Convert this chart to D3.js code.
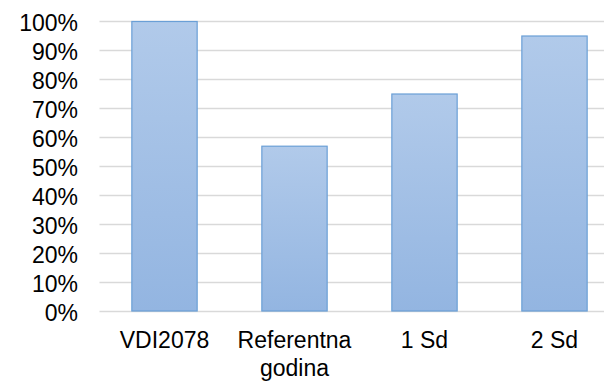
<!DOCTYPE html>
<html>
<head>
<meta charset="utf-8">
<script src="https://cdn.jsdelivr.net/npm/d3@7/dist/d3.min.js"></script>
<style>
  html, body { margin: 0; padding: 0; background: #fff; }
  svg { display: block; }
  text { font-family: "Liberation Sans", Arial, sans-serif; fill: #000; }
</style>
</head>
<body>
<svg id="chart" width="604" height="381"></svg>
<script>
// Share per scenario
const categories = ["VDI2078", "Referentna godina", "1 Sd", "2 Sd"];
const values = [1.00, 0.57, 0.75, 0.95];
const yTicks = [0, 0.1, 0.2, 0.3, 0.4, 0.5, 0.6, 0.7, 0.8, 0.9, 1.0];

const svg = d3.select("#chart");
const W = 604, H = 381;
const plot = { left: 99.5, right: 619.5, top: 21, bottom: 311 };

const x = d3.scaleBand()
  .domain(categories)
  .range([plot.left, plot.right])
  .paddingInner(0.49)
  .paddingOuter(0.245);

const y = d3.scaleLinear()
  .domain([0, 1])
  .range([plot.bottom, plot.top]);

// vertical gradient for the bars
const defs = svg.append("defs");
const grad = defs.append("linearGradient")
  .attr("id", "barFill")
  .attr("x1", 0).attr("y1", 0).attr("x2", 0).attr("y2", 1);
grad.append("stop").attr("offset", "0%").attr("stop-color", "#b1caea");
grad.append("stop").attr("offset", "100%").attr("stop-color", "#93b5e1");

// gridlines
svg.append("g")
  .selectAll("line")
  .data(yTicks)
  .join("line")
  .attr("x1", plot.left)
  .attr("x2", plot.right)
  .attr("y1", d => Math.round(y(d)) + 0.5)
  .attr("y2", d => Math.round(y(d)) + 0.5)
  .attr("stroke", "#d9d9d9")
  .attr("stroke-width", 1.3);

// y axis labels
const yAxis = d3.axisLeft(y)
  .tickValues(yTicks)
  .tickFormat(d3.format(".0%"))
  .tickSize(0)
  .tickPadding(0);
const gy = svg.append("g")
  .attr("transform", "translate(78,0)")
  .call(yAxis);
gy.select(".domain").remove();
gy.selectAll("text")
  .attr("font-family", "Liberation Sans, Arial, sans-serif")
  .attr("font-size", 23)
  .attr("fill", "#000")
  .attr("dy", "0.4em");

// bars
svg.append("g")
  .selectAll("rect")
  .data(categories.map((c, i) => ({ c, v: values[i] })))
  .join("rect")
  .attr("x", d => x(d.c) + 0.5)
  .attr("y", d => y(d.v) + 0.5)
  .attr("width", x.bandwidth() - 1)
  .attr("height", d => y(0) - y(d.v) - 0.5)
  .attr("fill", "url(#barFill)")
  .attr("stroke", "#6a9fd6")
  .attr("stroke-width", 1.2);

// x axis labels (wrapped onto two lines where needed)
const xAxis = d3.axisBottom(x).tickSize(0).tickPadding(0);
const gx = svg.append("g")
  .attr("transform", `translate(0,${plot.bottom})`)
  .call(xAxis);
gx.select(".domain").remove();
gx.selectAll("text")
  .attr("font-family", "Liberation Sans, Arial, sans-serif")
  .attr("font-size", 23)
  .attr("fill", "#000")
  .attr("y", 37)
  .attr("dy", 0)
  .each(function (d) {
    const words = d.split(" ");
    const t = d3.select(this).text(null);
    if (d === "Referentna godina") {
      t.append("tspan").attr("x", 0).attr("dy", 0).text(words[0]);
      t.append("tspan").attr("x", 0).attr("dy", 28).text(words[1]);
    } else {
      t.append("tspan").attr("x", 0).attr("dy", 0).text(d);
    }
  });
</script>
</body>
</html>
